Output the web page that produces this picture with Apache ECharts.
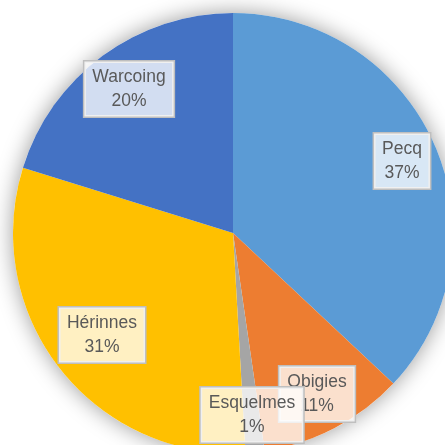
<!DOCTYPE html>
<html>
<head>
<meta charset="utf-8">
<script src="https://cdn.jsdelivr.net/npm/echarts@6/dist/echarts.min.js"></script>
<style>html,body{margin:0;padding:0;background:#fff}#c{width:445px;height:445px}</style>
</head>
<body>
<div id="c"></div>
<script>
var names = ['Pecq', 'Obigies', 'Esquelmes', 'Hérinnes', 'Warcoing'];
var values = [37.0, 10.7, 1.4, 30.7, 20.2];
var percentLabels = ['37%', '11%', '1%', '31%', '20%'];

var colors = ['#5B9BD5', '#ED7D31', '#A5A5A5', '#FFC000', '#4472C4'];
var labelX = [402, 317, 252, 102, 129];
var labelY = [161, 394, 415, 335, 89];

var chart = echarts.init(document.getElementById('c'), null, {renderer: 'canvas'});
chart.setOption({
  animation: false,
  series: [
    {
      type: 'pie',
      silent: true,
      center: [233, 233],
      radius: 220,
      z: 1,
      label: {show: false},
      labelLine: {show: false},
      itemStyle: {color: '#ffffff', shadowBlur: 22, shadowColor: 'rgba(0,0,0,0.4)'},
      data: [{value: 1}]
    },
    {
      type: 'pie',
      center: [233, 233],
      radius: 220,
      startAngle: 90,
      clockwise: true,
      z: 2,
      data: names.map(function (n, i) {
        return {name: n, value: values[i], itemStyle: {color: colors[i]}};
      }),
      label: {
        show: true,
        position: 'inside',
        formatter: function (p) { return p.name + '\n' + percentLabels[p.dataIndex]; },
        fontFamily: 'Liberation Sans',
        fontSize: 17.5,
        lineHeight: 24,
        color: '#595959',
        align: 'center',
        backgroundColor: 'rgba(255,255,255,0.76)',
        borderColor: '#BFBFBF',
        borderWidth: 1.5,
        padding: [4, 8, 3, 8]
      },
      labelLine: {show: false},
      labelLayout: function (p) {
        return {x: labelX[p.dataIndex], y: labelY[p.dataIndex], align: 'center', verticalAlign: 'middle'};
      }
    }
  ]
});
</script>
</body>
</html>
